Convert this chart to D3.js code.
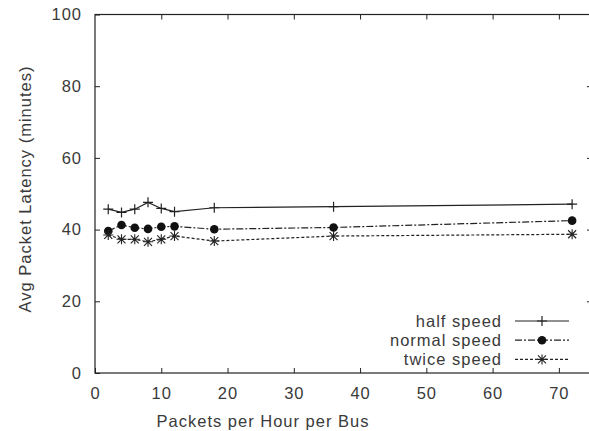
<!DOCTYPE html>
<html>
<head>
<meta charset="utf-8">
<script src="https://cdn.jsdelivr.net/npm/d3@7"></script>
<style>
body { margin: 0; background: #fff; }
text { font-family: "Liberation Sans", Arial, sans-serif; fill: #3a3a3a; letter-spacing: 1px; }
</style>
</head>
<body>
<svg id="chart" width="589" height="431"></svg>
<script>
// packets per hour per bus
var rates = [2, 4, 6, 8, 10, 12, 18, 36, 72];
var halfSpeed   = [45.7, 44.8, 45.7, 47.6, 45.9, 45.0, 46.1, 46.4, 47.1];
var normalSpeed = [39.6, 41.3, 40.5, 40.2, 40.8, 40.9, 40.1, 40.6, 42.5];
var twiceSpeed  = [38.5, 37.3, 37.3, 36.6, 37.3, 38.2, 36.8, 38.2, 38.7];
var xTicks = [0, 10, 20, 30, 40, 50, 60, 70];
var yTicks = [0, 20, 40, 60, 80, 100];

var series = [
	{name: "half speed", values: halfSpeed, dash: null, mark: "plus"},
	{name: "normal speed", values: normalSpeed, dash: "7,2,2,2", mark: "circle"},
	{name: "twice speed", values: twiceSpeed, dash: "3,2", mark: "star"}
];

var svg = d3.select("#chart");
var ink = "#222";
var fs = 16.5;

var x = d3.scaleLinear().domain([0, 75]).range([95, 592]);
var y = d3.scaleLinear().domain([0, 100]).range([373, 14.5]);

// frame
svg.append("rect")
	.attr("x", x(0)).attr("y", y(100))
	.attr("width", x(75) - x(0)).attr("height", y(0) - y(100))
	.attr("fill", "none").attr("stroke", ink).attr("stroke-width", 1.2);

// ticks, mirrored like gnuplot
var axBottom = svg.append("g").attr("transform", "translate(0," + y(0) + ")")
	.call(d3.axisBottom(x).tickValues(xTicks).tickSize(-5).tickPadding(14));
var axTop = svg.append("g").attr("transform", "translate(0," + y(100) + ")")
	.call(d3.axisTop(x).tickValues(xTicks.slice(1)).tickSize(-5).tickFormat(""));
var axLeft = svg.append("g").attr("transform", "translate(" + x(0) + ",0)")
	.call(d3.axisLeft(y).tickValues(yTicks).tickSize(-5).tickPadding(13));
var axRight = svg.append("g").attr("transform", "translate(" + x(75) + ",0)")
	.call(d3.axisRight(y).tickValues(yTicks.slice(1, 5)).tickSize(-5).tickFormat(""));

[axBottom, axTop, axLeft, axRight].forEach(function(g){
	g.select(".domain").remove();
	g.selectAll("line").attr("stroke", ink);
	g.selectAll("text").attr("font-size", fs).style("fill", "#3a3a3a")
		.attr("font-family", "Liberation Sans, Arial, sans-serif");
});

// axis titles
svg.append("text")
	.attr("x", 263).attr("y", 421).attr("dy", "0.35em")
	.attr("text-anchor", "middle").attr("font-size", fs)
	.text("Packets per Hour per Bus");
svg.append("text")
	.attr("transform", "translate(25,189) rotate(-90)")
	.attr("dy", "0.35em")
	.attr("text-anchor", "middle").attr("font-size", fs)
	.text("Avg Packet Latency (minutes)");

function drawMark(g, type, cx, cy){
	if(type == "plus"){
		g.append("path")
			.attr("d", "M" + (cx - 5) + "," + cy + "h10M" + cx + "," + (cy - 5) + "v10")
			.attr("stroke", ink).attr("stroke-width", 1.2);
	}
	else if(type == "circle"){
		g.append("circle").attr("cx", cx).attr("cy", cy).attr("r", 4.3).attr("fill", "#111");
	}
	else {
		g.append("path")
			.attr("d", "M" + (cx - 5) + "," + cy + "h10M" + cx + "," + (cy - 5) + "v10M" +
				(cx - 4) + "," + (cy - 4) + "l8,8M" + (cx - 4) + "," + (cy + 4) + "l8,-8")
			.attr("stroke", ink).attr("stroke-width", 1.1);
	}
}

var line = d3.line()
	.x(function(d){ return x(d[0]); })
	.y(function(d){ return y(d[1]); });

series.forEach(function(s){
	var pts = rates.map(function(r, i){ return [r, s.values[i]]; });
	svg.append("path")
		.datum(pts)
		.attr("d", line)
		.attr("fill", "none")
		.attr("stroke", ink)
		.attr("stroke-width", 1.2)
		.attr("stroke-dasharray", s.dash);
	var g = svg.append("g");
	pts.forEach(function(p){ drawMark(g, s.mark, x(p[0]), y(p[1])); });
});

// legend
var legend = svg.append("g");
series.forEach(function(s, i){
	var ly = 321 + i * 19.2;
	legend.append("text")
		.attr("x", 502).attr("y", ly).attr("dy", "0.35em")
		.attr("text-anchor", "end").attr("font-size", fs)
		.text(s.name);
	legend.append("line")
		.attr("x1", 515).attr("x2", 569).attr("y1", ly).attr("y2", ly)
		.attr("stroke", ink).attr("stroke-width", 1.2)
		.attr("stroke-dasharray", s.dash);
	drawMark(legend, s.mark, 542, ly);
});
</script>
</body>
</html>
